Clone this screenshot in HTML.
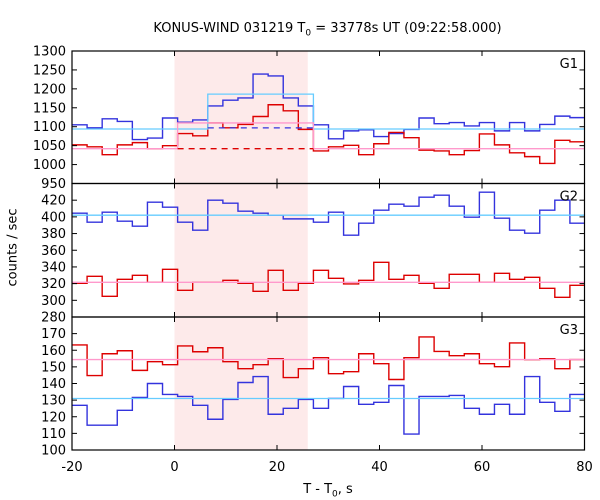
<!DOCTYPE html>
<html><head><meta charset="utf-8"><style>
body{margin:0;background:#fff}
svg{display:block;font-family:"DejaVu Sans","Liberation Sans",sans-serif}
</style></head><body>
<svg id="c" width="600" height="500"></svg>
<script>
const binStart=-20, binWidth=2.944;
const g1Blue=[1105,1097,1121,1114,1066,1070,1123,1112,1118,1155,1170,1176,1239,1234,1176,1155,1105,1068,1089,1092,1074,1082,1093,1123,1108,1111,1102,1111,1089,1111,1089,1106,1128,1124];
const g1Red=[1052,1047,1026,1052,1058,1042,1050,1082,1076,1110,1097,1106,1127,1158,1142,1093,1036,1047,1051,1026,1055,1085,1071,1038,1036,1026,1037,1081,1052,1031,1021,1003,1064,1060];
const g2Blue=[404.4,393.6,405.6,394.8,388.8,417.6,411.6,393.6,384,420,416.4,406.8,404.4,402,397.6,397.6,393.6,405.6,378,392.4,408,415.2,412.8,423.6,426,412.8,399.6,429.6,398.4,384,380.4,408,420,392.4];
const g2Red=[320.4,328.8,304.8,325.2,330,321.6,337.2,312,321.6,321.6,324,320.4,310.8,336,312,320.4,336,326.4,319.6,324,345.6,325.2,330,320.4,314.4,331.2,331.2,321.6,332.4,325.2,327.6,314.4,303.6,318];
const g3Red=[163.2,144.8,157.9,159.7,147.9,153.1,151.3,162.6,159.1,161.5,153.1,148.9,151.3,154.9,143.6,148.9,155.5,145.9,147.1,157.9,151.9,142.4,155.5,168,159.3,156.7,157.9,151.9,150.1,164.4,154.3,154.9,148.9,154.4];
const g3Blue=[126.9,114.9,114.9,123.9,131.6,140,133.4,132.2,126.9,118.5,130.4,140.6,144.2,121.5,125.1,130.4,125.1,131,138.2,127.5,128.7,138.8,109.6,132.2,132.2,132.8,125.1,121.5,127.5,121.5,144.2,128.7,123.3,133.4];
const g1Back=[1094,1042]; const g1Peak=[1186,1110]; const g1Dash=[1097,1042];
const g2Back=[402,321.6]; const g3Back=[131,154.4];
const g1Ticks=[950,1000,1050,1100,1150,1200,1250,1300];
const g2Ticks=[280,300,320,340,360,380,400,420,440];
const g3Ticks=[100,110,120,130,140,150,160,170,180];
const xTicks=[-20,0,20,40,60,80];

const S='http://www.w3.org/2000/svg', svg=document.getElementById('c');
const L=72,R=584.5;
const X=t=>L+(t+20)*(R-L)/100;
function mk(tag,at,parent){const e=document.createElementNS(S,tag);for(const k in at)e.setAttribute(k,at[k]);(parent||svg).appendChild(e);return e;}
const panels=[
 {top:51,bot:183.5,min:950,max:1300,ticks:g1Ticks,label:'G1',unl:[]},
 {top:183.5,bot:317,min:280,max:440,ticks:g2Ticks,label:'G2',unl:[440]},
 {top:317,bot:450,min:100,max:180,ticks:g3Ticks,label:'G3',unl:[180]}];
panels.forEach(p=>p.Y=v=>p.bot-(v-p.min)*(p.bot-p.top)/(p.max-p.min));

let sh=mk('rect',{x:X(0),y:51,width:X(26)-X(0),height:399,fill:'#fdeaea'});



function step(arr,p,col,name){
 let d='';arr.forEach((v,i)=>{const x0=X(binStart+i*binWidth),x1=X(binStart+(i+1)*binWidth),y=p.Y(v);d+=(i?'V':'M'+x0+',')+y+'H'+Math.min(x1,R);});
 const e=mk('path',{d:d,fill:'none',stroke:col,'stroke-width':1.4});
 
 
}
function hline(p,v,x0,x1,col,name,dash){
 const e=mk('line',{x1:x0,x2:x1,y1:p.Y(v),y2:p.Y(v),stroke:col,'stroke-width':1.3});
 if(dash)e.setAttribute('stroke-dasharray','6,5');
 
 
}
const P1=panels[0],P2=panels[1],P3=panels[2];
step(g1Blue,P1,'#3333dd','g1-blue-series');step(g1Red,P1,'#dd0000','g1-red-series');
step(g2Blue,P2,'#3333dd','g2-blue-series');step(g2Red,P2,'#dd0000','g2-red-series');
step(g3Red,P3,'#dd0000','g3-red-series');step(g3Blue,P3,'#3333dd','g3-blue-series');
const bs9=X(binStart+9*binWidth),bs7=X(binStart+7*binWidth),bs16=X(binStart+16*binWidth);
function boxPath(p,base,peak,xa,xb,col,name){
 const e=mk('path',{d:`M${L},${p.Y(base)}H${xa}V${p.Y(peak)}H${xb}V${p.Y(base)}H${R}`,fill:'none',stroke:col,'stroke-width':1.3});
 
 
}
boxPath(P1,g1Back[0],g1Peak[0],bs9,bs16,'#66ccff','g1-blue-background');
boxPath(P1,g1Back[1],g1Peak[1],bs7,bs16,'#ff99cc','g1-red-background');
hline(P1,g1Dash[0],bs9,bs16,'#3333dd','g1-blue-dashed-level',true);
hline(P1,g1Dash[1],bs7,bs16,'#dd0000','g1-red-dashed-level',true);
hline(P2,g2Back[0],L,R,'#66ccff','g2-blue-background');
hline(P2,g2Back[1],L,R,'#ff99cc','g2-red-background');
hline(P3,g3Back[0],L,R,'#66ccff','g3-blue-background');
hline(P3,g3Back[1],L,R,'#ff99cc','g3-red-background');

panels.forEach((p,k)=>{
 const fr=mk('rect',{x:L,y:p.top,width:R-L,height:p.bot-p.top,fill:'none',stroke:'#000','stroke-width':1.2});
 
 
 p.ticks.forEach(v=>{
  const y=p.Y(v);
  mk('line',{x1:L,x2:L+5,y1:y,y2:y,stroke:'#000'});mk('line',{x1:R-5,x2:R,y1:y,y2:y,stroke:'#000'});
  if(p.unl.indexOf(v)<0){
   const t=mk('text',{x:L-6,y:y+4.5,'text-anchor':'end','font-size':13,fill:'#000'});t.textContent=v;
   
   
  }
 });
 xTicks.forEach(v=>{const x=X(v);mk('line',{x1:x,x2:x,y1:p.top,y2:p.top+5,stroke:'#000'});mk('line',{x1:x,x2:x,y1:p.bot-5,y2:p.bot,stroke:'#000'});});
 const g=mk('text',{x:578,y:p.top+17,'text-anchor':'end','font-size':13,fill:'#000'});g.textContent=p.label;
 
 
});
xTicks.forEach(v=>{
 const t=mk('text',{x:X(v),y:471,'text-anchor':'middle','font-size':13,fill:'#000'});t.textContent=v;
 
 
});
</script>
<div style="position:absolute;left:0;top:21px;width:655px;text-align:center;font:13px 'DejaVu Sans','Liberation Sans',sans-serif">KONUS-WIND 031219 T<sub style="font-size:9px">0</sub> = 33778s UT (09:22:58.000)</div>
<div style="position:absolute;left:0;top:482px;width:656px;text-align:center;font:13px 'DejaVu Sans','Liberation Sans',sans-serif">T - T<sub style="font-size:9px">0</sub>, s</div>
<div style="position:absolute;left:-32px;top:240px;width:90px;text-align:center;transform:rotate(-90deg);font:13px 'DejaVu Sans','Liberation Sans',sans-serif">counts / sec</div>
</body></html>
